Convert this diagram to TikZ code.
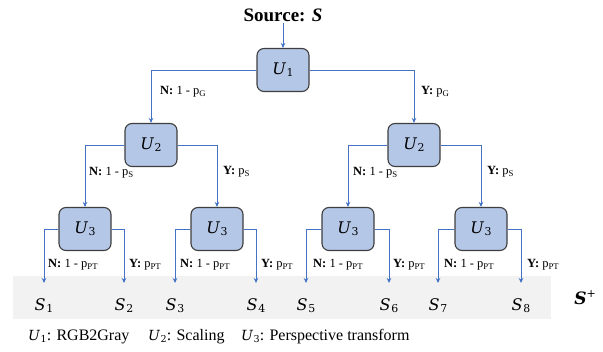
\documentclass[tikz,border=0pt]{standalone}
\usepackage{fix-cm}
\usepackage{fontspec}
\setmainfont{Liberation Serif}
\newfontfamily\mfont{DejaVu Serif}
\usepackage{bm}
\usetikzlibrary{arrows.meta}
\definecolor{boxfill}{HTML}{B4C7E7}
\definecolor{boxdraw}{HTML}{3F3F3F}
\definecolor{linkblue}{HTML}{4472C4}
\definecolor{band}{HTML}{F2F2F2}
% italic variable with subscript digit
\newcommand{\mvar}[2]{{\mfont\itshape #1}\kern0.05em\raisebox{-0.3ex}{\mfont\fontsize{0.68\dimexpr\fontdimen6\font\relax}{1}\selectfont #2}}
\begin{document}
\begin{tikzpicture}[x=1pt,y=-1pt,
 ubox/.style={draw=boxdraw,fill=boxfill,line width=1.1pt,rounded corners=7pt,minimum width=52pt,minimum height=43pt,inner sep=0pt,font=\fontsize{16}{18}\selectfont},
 link/.style={draw=linkblue,line width=0.9pt,-{Stealth[length=5pt,width=4.5pt]}},
 elabel/.style={anchor=west,inner sep=0pt,font=\fontsize{12.5}{14}\selectfont},
 slabel/.style={anchor=north,inner xsep=0pt,inner ysep=16pt,text height=11pt,text depth=0pt,font=\fontsize{16}{18}\selectfont},
 legend/.style={anchor=west,inner sep=0pt,font=\fontsize{16}{18}\selectfont}]
\useasboundingbox (0,0) rectangle (603,352);
\fill[band] (13,276) rectangle (551,319);

\node[font=\bfseries\fontsize{19}{21}\selectfont,inner sep=1pt] (src) at (283,15) {Source: \textit{S}};
\node[ubox] (u1) at (283,70) {\mvar{U}{1}};
\node[ubox] (u2l) at (151,145) {\mvar{U}{2}};
\node[ubox] (u2r) at (414,145) {\mvar{U}{2}};
\node[ubox] (u3a) at (85,229) {\mvar{U}{3}};
\node[ubox] (u3b) at (217,229) {\mvar{U}{3}};
\node[ubox] (u3c) at (348,229) {\mvar{U}{3}};
\node[ubox] (u3d) at (481,229) {\mvar{U}{3}};

\node[slabel] (s1) at (44,283) {\mvar{S}{1}};
\node[slabel] (s2) at (124,283) {\mvar{S}{2}};
\node[slabel] (s3) at (175,283) {\mvar{S}{3}};
\node[slabel] (s4) at (256,283) {\mvar{S}{4}};
\node[slabel] (s5) at (306,283) {\mvar{S}{5}};
\node[slabel] (s6) at (389,283) {\mvar{S}{6}};
\node[slabel] (s7) at (438,283) {\mvar{S}{7}};
\node[slabel] (s8) at (521,283) {\mvar{S}{8}};
\node[font=\fontsize{17}{20}\selectfont,inner sep=0pt] (splus) at (585,298) {{\mfont\bfseries\itshape S}\raisebox{0.9ex}{\mfont\fontsize{11}{12}\selectfont +}};

\draw[link] (src.south) -- (u1.north);
\draw[link] (u1.west) -| (u2l.north);
\draw[link] (u1.east) -| (u2r.north);
\draw[link] (u2l.west) -| (u3a.north);
\draw[link] (u2l.east) -| (u3b.north);
\draw[link] (u2r.west) -| (u3c.north);
\draw[link] (u2r.east) -| (u3d.north);
\draw[link] (u3a.west) -| (s1.north);
\draw[link] (u3a.east) -| (s2.north);
\draw[link] (u3b.west) -| (s3.north);
\draw[link] (u3b.east) -| (s4.north);
\draw[link] (u3c.west) -| (s5.north);
\draw[link] (u3c.east) -| (s6.north);
\draw[link] (u3d.west) -| (s7.north);
\draw[link] (u3d.east) -| (s8.north);

\node[elabel] (l1n) at (160,92) {\textbf{N:} 1 - p\textsubscript{G}};
\node[elabel] (l1y) at (421,92) {\textbf{Y:} p\textsubscript{G}};
\node[elabel] (l2a) at (89,173) {\textbf{N:} 1 - p\textsubscript{S}};
\node[elabel] (l2b) at (223,172) {\textbf{Y:} p\textsubscript{S}};
\node[elabel] (l2c) at (353,173) {\textbf{N:} 1 - p\textsubscript{S}};
\node[elabel] (l2d) at (487,172) {\textbf{Y:} p\textsubscript{S}};
\node[elabel] (l3a) at (48,265) {\textbf{N:} 1 - p\textsubscript{PT}};
\node[elabel] (l3b) at (129,265) {\textbf{Y:} p\textsubscript{PT}};
\node[elabel] (l3c) at (180,265) {\textbf{N:} 1 - p\textsubscript{PT}};
\node[elabel] (l3d) at (261,265) {\textbf{Y:} p\textsubscript{PT}};
\node[elabel] (l3e) at (313,265) {\textbf{N:} 1 - p\textsubscript{PT}};
\node[elabel] (l3f) at (393,265) {\textbf{Y:} p\textsubscript{PT}};
\node[elabel] (l3g) at (444,265) {\textbf{N:} 1 - p\textsubscript{PT}};
\node[elabel] (l3h) at (527,265) {\textbf{Y:} p\textsubscript{PT}};

\node[legend] (g1) at (28,337) {{\fontsize{14}{16}\selectfont\mvar{U}{1}}: RGB2Gray};
\node[legend] (g2) at (148,337) {{\fontsize{14}{16}\selectfont\mvar{U}{2}}: Scaling};
\node[legend] (g3) at (241,337) {{\fontsize{14}{16}\selectfont\mvar{U}{3}}: Perspective transform};
\end{tikzpicture}
\end{document}
